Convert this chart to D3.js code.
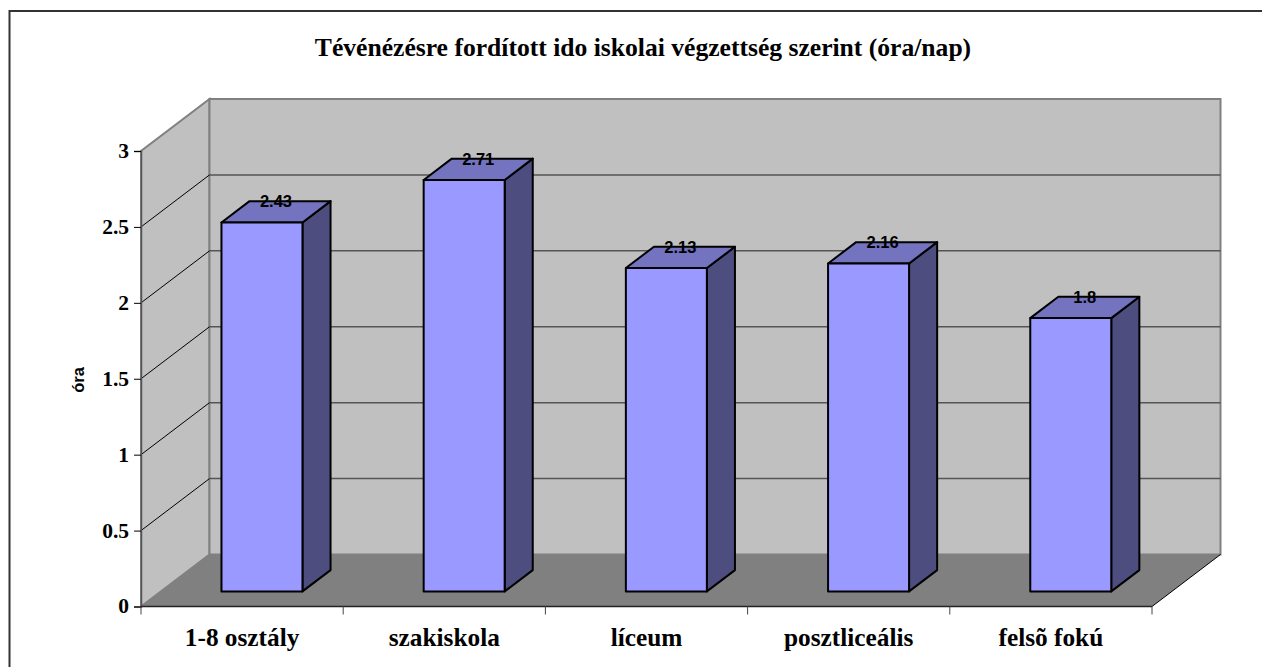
<!DOCTYPE html>
<html>
<head>
<meta charset="utf-8">
<style>
	body { margin: 0; background: #fff; }
	svg { display: block; }
	.tick-label { font-family: "Liberation Serif", serif; font-weight: bold; font-size: 21.5px; fill: #000; }
	.cat-label { font-size: 25.3px; }
</style>
</head>
<body>
<svg id="chart" width="1262" height="667"></svg>
<script src="https://cdn.jsdelivr.net/npm/d3@7"></script>
<script>
const categories = ['1-8 osztály', 'szakiskola', 'líceum', 'posztliceális', 'felsõ fokú'];
const values = [2.43, 2.71, 2.13, 2.16, 1.8];
const yTicks = [0, 0.5, 1, 1.5, 2, 2.5, 3];
const titleText = 'Tévénézésre fordított ido iskolai végzettség szerint (óra/nap)';
const yTitle = 'óra';

const svg = d3.select('#chart');
const depth = { x: 68.5, y: -52 };

const x = d3.scaleBand().domain(categories).range([141, 1152]);
const y = d3.scaleLinear().domain([0, 3]).range([606.5, 151]);
const barWidth = 81;
const barShift = 0.29;
const barDepth = 0.41;

// outer frame, open at the right and bottom like the source crop
svg.append('path')
	.attr('d', 'M9.5,667V11H1262')
	.attr('fill', 'none')
	.attr('stroke', '#333')
	.attr('stroke-width', 2);

svg.append('text')
	.attr('x', 643)
	.attr('y', 56)
	.attr('text-anchor', 'middle')
	.attr('font-family', '"Liberation Serif", serif')
	.attr('font-weight', 'bold')
	.attr('font-size', 25.6)
	.text(titleText);

const left = x.range()[0];
const right = x.range()[1];
const wall = svg.append('g');

// side wall
wall.append('polygon')
	.attr('points', [
		[left, y(0)],
		[left, y(3)],
		[left + depth.x, y(3) + depth.y],
		[left + depth.x, y(0) + depth.y]
	].join(' '))
	.attr('fill', '#c0c0c0')
	.attr('stroke', '#808080')
	.attr('stroke-width', 2);

// back wall
wall.append('rect')
	.attr('x', left + depth.x)
	.attr('y', y(3) + depth.y)
	.attr('width', right - left)
	.attr('height', y(0) - y(3))
	.attr('fill', '#c0c0c0')
	.attr('stroke', '#808080')
	.attr('stroke-width', 2);

// floor
wall.append('polygon')
	.attr('points', [
		[left, y(0)],
		[right, y(0)],
		[right + depth.x, y(0) + depth.y],
		[left + depth.x, y(0) + depth.y]
	].join(' '))
	.attr('fill', '#808080');

wall.append('line')
	.attr('x1', right)
	.attr('y1', y(0))
	.attr('x2', right + depth.x)
	.attr('y2', y(0) + depth.y)
	.attr('stroke', '#000');

const grid = yTicks.filter(d => d > 0 && d < 3);

wall.selectAll('.grid-back')
	.data(grid)
	.enter()
	.append('line')
	.attr('class', 'grid-back')
	.attr('x1', left + depth.x)
	.attr('x2', right + depth.x)
	.attr('y1', d => y(d) + depth.y)
	.attr('y2', d => y(d) + depth.y)
	.attr('stroke', '#555')
	.attr('stroke-width', 1.5);

wall.selectAll('.grid-side')
	.data(grid)
	.enter()
	.append('line')
	.attr('class', 'grid-side')
	.attr('x1', left)
	.attr('x2', left + depth.x)
	.attr('y1', d => y(d))
	.attr('y2', d => y(d) + depth.y)
	.attr('stroke', '#000');

// axes
const yAxis = svg.append('g')
	.attr('transform', 'translate(' + left + ',0)')
	.call(d3.axisLeft(y).tickValues(yTicks).tickSize(7).tickPadding(5).tickFormat(d => String(d)));
yAxis.select('.domain').attr('stroke', '#555').attr('stroke-width', 1.5);
yAxis.selectAll('text').attr('class', 'tick-label').attr('dy', '0.3em');

const xAxis = svg.append('g')
	.attr('transform', 'translate(0,' + y(0) + ')');
xAxis.append('line')
	.attr('x1', left)
	.attr('x2', right)
	.attr('stroke', '#222')
	.attr('stroke-width', 1.5);
xAxis.selectAll('.cat-tick')
	.data(d3.range(categories.length + 1))
	.enter()
	.append('line')
	.attr('class', 'cat-tick')
	.attr('x1', i => left + i * x.step())
	.attr('x2', i => left + i * x.step())
	.attr('y1', 0)
	.attr('y2', 8)
	.attr('stroke', '#444');
xAxis.selectAll('.cat-label')
	.data(categories)
	.enter()
	.append('text')
	.attr('class', 'cat-label tick-label')
	.attr('x', d => x(d) + x.bandwidth() / 2)
	.attr('y', 39)
	.attr('text-anchor', 'middle')
	.text(d => d);

svg.append('text')
	.attr('transform', 'translate(84,380) rotate(-90)')
	.attr('text-anchor', 'middle')
	.attr('font-family', '"Liberation Sans", sans-serif')
	.attr('font-weight', 'bold')
	.attr('font-size', 16.5)
	.text(yTitle);

// bars
const bars = svg.selectAll('.bar')
	.data(categories.map((c, i) => ({ cat: c, value: values[i] })))
	.enter()
	.append('g')
	.attr('class', 'bar')
	.attr('stroke', '#000')
	.attr('stroke-width', 2)
	.attr('stroke-linejoin', 'round');

const barLeft = d => x(d.cat) + x.bandwidth() / 2 - barWidth / 2 + depth.x * barShift;
const barBase = () => y(0) + depth.y * barShift;
const barTop = d => barBase() - (y(0) - y(d.value));
const dx = depth.x * barDepth;
const dy = depth.y * barDepth;

bars.append('polygon')
	.attr('fill', '#4d4d80')
	.attr('points', d => {
		const r = barLeft(d) + barWidth;
		return [[r, barBase()], [r, barTop(d)], [r + dx, barTop(d) + dy], [r + dx, barBase() + dy]].join(' ');
	});

bars.append('polygon')
	.attr('fill', '#7373bf')
	.attr('points', d => {
		const l = barLeft(d);
		const t = barTop(d);
		return [[l, t], [l + barWidth, t], [l + barWidth + dx, t + dy], [l + dx, t + dy]].join(' ');
	});

bars.append('rect')
	.attr('fill', '#9999ff')
	.attr('x', barLeft)
	.attr('y', barTop)
	.attr('width', barWidth)
	.attr('height', d => barBase() - barTop(d));

bars.append('text')
	.attr('x', d => barLeft(d) + barWidth / 2 + dx / 2)
	.attr('y', d => barTop(d) + dy + 6)
	.attr('text-anchor', 'middle')
	.attr('stroke', 'none')
	.attr('font-family', '"Liberation Sans", sans-serif')
	.attr('font-weight', 'bold')
	.attr('font-size', 16.5)
	.text(d => d.value);
</script>
</body>
</html>
